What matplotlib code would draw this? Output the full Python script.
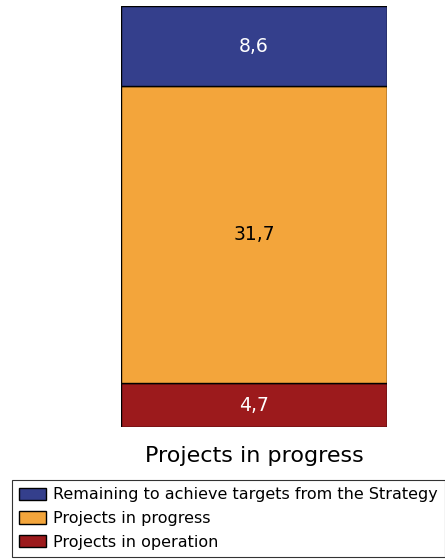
import matplotlib
matplotlib.use("Agg")
from matplotlib import pyplot as plt

category = "Projects in progress"
series = ["Projects in operation", "Projects in progress",
          "Remaining to achieve targets from the Strategy"]
values = [4.7, 31.7, 8.6]
labels = ["4,7", "31,7", "8,6"]
colors = ["#9C1A1C", "#F3A53B", "#343F8C"]
text_colors = ["white", "black", "white"]


def main():
    fig = plt.figure(figsize=(4.45, 5.59), dpi=100)
    ax = fig.add_axes([121 / 445, 1 - 427 / 559, 266 / 445, 421 / 559])

    bottom = 0
    bars = []
    for val, lab, col, tc, name in zip(values, labels, colors, text_colors, series):
        b = ax.bar(0, val, width=1, bottom=bottom, color=col,
                   edgecolor="black", linewidth=1.0, label=name)
        bars.append(b)
        ax.text(0, bottom + val / 2, lab, ha="center", va="center",
                color=tc, fontsize=13.5)
        bottom += val

    ax.set_xlim(-0.5, 0.5)
    ax.set_ylim(0, bottom)
    ax.set_xticks([])
    ax.set_yticks([])
    for s in ax.spines.values():
        s.set_visible(False)

    fig.text(254 / 445, 1 - 456 / 559, category, ha="center", va="center",
             fontsize=16)

    handles = [bars[2], bars[1], bars[0]]
    leg = fig.legend(handles, [series[2], series[1], series[0]],
                     loc="upper left", bbox_to_anchor=(12 / 445, 1 - 480 / 559),
                     frameon=True, fancybox=False, edgecolor="black",
                     prop={"size": 11.5},
                     handlelength=1.7, handleheight=0.8, handletextpad=0.42,
                     labelspacing=0.55, borderpad=0.45, borderaxespad=0)
    leg.get_frame().set_linewidth(0.8)

    fig.savefig("out.png", dpi=100)


if __name__ == "__main__":
    main()
